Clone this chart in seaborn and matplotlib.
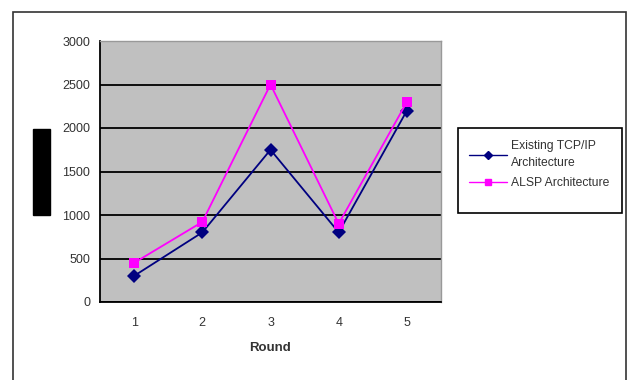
import pandas as pd
import seaborn as sns
import matplotlib.pyplot as plt
from matplotlib.patches import Rectangle

sns.set_style("white")
plt.rcParams['font.family'] = ['Liberation Sans', 'DejaVu Sans']

rounds = [1, 2, 3, 4, 5]
existing = [300, 800, 1750, 800, 2200]
alsp = [450, 920, 2500, 900, 2300]
series_names = ["Existing TCP/IP\nArchitecture", "ALSP Architecture"]

df = pd.DataFrame({
    "Round": rounds * 2,
    "valor": existing + alsp,
    "serie": [series_names[0]] * 5 + [series_names[1]] * 5,
})

fig = plt.figure(figsize=(6.27, 3.80), dpi=100)
W, H = 627, 380

# moldura externa do grafico
fig.patches.append(Rectangle((13 / W, -0.05), (626 - 13) / W, 1.05 - 12 / H,
                             transform=fig.transFigure, fill=False,
                             edgecolor="#333333", linewidth=1.2))
# rotulo do eixo y (tarjado)
fig.patches.append(Rectangle((33 / W, 1 - 215 / H), 17 / W, 86 / H,
                             transform=fig.transFigure, color="black"))

ax = fig.add_axes([100 / W, 1 - 302 / H, 341 / W, 261 / H])
ax.set_facecolor("#c0c0c0")

sns.lineplot(data=df, x="Round", y="valor", hue="serie", style="serie",
             markers=["D", "s"], dashes=False,
             palette=["#000080", "#ff00ff"], linewidth=1.3,
             markersize=7, markeredgewidth=0, ax=ax, legend=False, zorder=3)

ax.set_xlim(0.5, 5.5)
ax.set_ylim(0, 3000)
ax.set_yticks(range(0, 3001, 500))
ax.set_xticks(rounds)
ax.set_xticks([0.5, 1.5, 2.5, 3.5, 4.5, 5.5], minor=True)
ax.tick_params(axis="x", which="major", length=0, labelsize=9, pad=11, colors="#333333")
ax.tick_params(axis="x", which="minor", length=3, width=1.2, direction="out")
ax.tick_params(axis="y", length=4, width=1.2, direction="out", labelsize=9,
               pad=3, colors="#333333")
ax.yaxis.grid(True, color="black", linewidth=1.3)
ax.set_axisbelow(True)

ax.set_xlabel("Round", fontsize=9.5, fontweight="bold", labelpad=9, color="#333333")
ax.set_ylabel("")

for s in ["left", "bottom"]:
    ax.spines[s].set_color("black")
    ax.spines[s].set_linewidth(1.3)
for s in ["top", "right"]:
    ax.spines[s].set_color("#999999")
    ax.spines[s].set_linewidth(1)

# legenda
fig.patches.append(Rectangle((458 / W, 1 - 213 / H), 164 / W, 85 / H,
                             transform=fig.transFigure, fill=False,
                             edgecolor="black", linewidth=1.2))
handles = [
    plt.Line2D([], [], color="#000080", marker="D", markersize=4, linewidth=1),
    plt.Line2D([], [], color="#ff00ff", marker="s", markersize=5, linewidth=1),
]
leg = fig.legend(handles, series_names, loc="upper left",
                 bbox_to_anchor=(463 / W, 1 - 134 / H), frameon=False,
                 fontsize=8.7, handlelength=3.1, handletextpad=0.35,
                 labelspacing=0.7, borderpad=0)
for t in leg.get_texts():
    t.set_color("#333333")
    t.set_linespacing(1.5)

fig.savefig("out.png", dpi=100)
